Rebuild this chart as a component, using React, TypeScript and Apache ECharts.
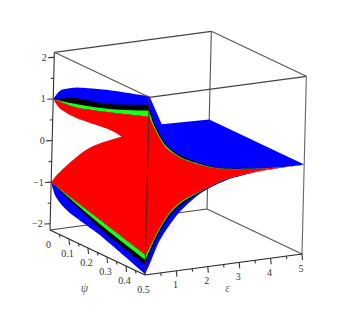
import React, { useEffect, useRef } from "react";
import * as echarts from "echarts";

type P3 = [number, number, number]; // [epsilon, psi, value]

// Tick labels
const zTicks = [2, 1, 0, -1, -2];
const zMinor = [1.5, 0.5, -0.5, -1.5];
const psiTicks = [0, 0.1, 0.2, 0.3, 0.4, 0.5];
const psiMinor = [0.05, 0.15, 0.25, 0.35, 0.45];
const epsTicks = [1, 2, 3, 4, 5];
const epsMinor = [0.5, 1.5, 2.5, 3.5, 4.5];
const zTop = 2.12;
const zBottom = -2.15;

// Sheets' edges at epsilon = 0: [psi, value]
const upperBlueFront = [[0, 1], [0.034, 1.27], [0.076, 1.415], [0.138, 1.57], [0.278, 1.82], [0.4, 2.0], [0.5, 2.15]];
const upperBlackFront = [[0, 1], [0.106, 1.25], [0.174, 1.35], [0.297, 1.52], [0.5, 1.94]];
const upperGreenFront = [[0, 1], [0.106, 1.12], [0.297, 1.4], [0.5, 1.8]];
const upperRedFront = [[0, 1], [0.106, 1.04], [0.175, 1.13], [0.297, 1.32], [0.5, 1.655]];
const lowerRedFront = [[0, -1], [0.26, -1.35], [0.5, -1.67]];
const lowerGreenFront = [[0, -1], [0.26, -1.45], [0.5, -1.79]];
const lowerBlackFront = [[0, -1], [0.26, -1.55], [0.5, -1.91]];
const lowerBlueFront = [[0, -1], [0.012, -1.165], [0.031, -1.32], [0.084, -1.49], [0.173, -1.61], [0.26, -1.71], [0.383, -1.92], [0.5, -2.13]];

// Sheets' edges at psi = 0.5: [epsilon, value]
const upperBlackSide = [[0, 1.94], [0.067, 1.73], [0.26, 1.35], [0.59, 0.915], [1.02, 0.63], [1.45, 0.45], [1.99, 0.269], [2.525, 0.16], [3.27, 0.08], [3.8, 0.04], [4.44, 0.01], [5, 0]];
const upperGreenSide = [[0, 1.8], [0.08, 1.62], [0.21, 1.37], [0.54, 0.925], [0.97, 0.62], [1.4, 0.44], [1.99, 0.253], [2.525, 0.15], [3.27, 0.074], [3.8, 0.035], [4.44, 0.007], [5, 0]];
const upperRedSide = [[0, 1.655], [0.21, 1.315], [0.54, 0.88], [0.97, 0.596], [1.4, 0.417], [1.99, 0.238], [2.525, 0.143], [3.27, 0.068], [3.8, 0.031], [4.44, 0.005], [5, 0]];
const lowerRedSide = [[0, -1.67], [0.137, -1.484], [0.39, -1.107], [0.75, -0.704], [1.16, -0.464], [1.69, -0.31], [2.0, -0.23], [2.43, -0.11], [3.05, -0.04], [3.8, -0.005], [4.44, 0], [5, 0]];
const lowerGreenSide = [[0, -1.79], [0.14, -1.55], [0.39, -1.16], [0.75, -0.75], [1.16, -0.5], [1.69, -0.325], [2.43, -0.12], [3.05, -0.045], [3.8, -0.007], [5, 0]];
const lowerBlackSide = [[0, -1.91], [0.14, -1.65], [0.39, -1.24], [0.75, -0.81], [1.16, -0.56], [1.69, -0.34], [2.43, -0.13], [3.05, -0.05], [3.8, -0.009], [5, 0]];
const lowerBlueSide = [[0, -2.13], [0.15, -1.884], [0.45, -1.354], [0.86, -0.915], [1.17, -0.665], [1.69, -0.37], [2.43, -0.145], [3.05, -0.06], [3.8, -0.012], [5, 0]];

// Red sheet's edge at psi = 0: [epsilon, value]
const redGapUpper = [[0, 1], [0.22, 0.75], [0.656, 0.51], [1.09, 0.34], [1.84, 0.07], [2.22, -0.13]];
const redGapLower = [[2.22, -0.13], [1.53, -0.22], [1.0, -0.37], [0.274, -0.777], [0, -1]];

// Upper blue sheet's far outline
const blueOutline: P3[] = [[0.417, 0.5, 1.43], [5, 0, 0], [5, 0.5, 0]];

// Draws a read edge as a smooth line through its points (Catmull-Rom)
function curve(a: P3[]): P3[] {
  const out: P3[] = [];
  for (let i = 0; i < a.length - 1; i++) {
    const p0 = a[Math.max(0, i - 1)];
    const p1 = a[i];
    const p2 = a[i + 1];
    const p3 = a[Math.min(a.length - 1, i + 2)];
    for (let s = 0; s < 6; s++) {
      const t = s / 6;
      out.push(
        [0, 1, 2].map(
          (k) =>
            0.5 *
            (2 * p1[k] +
              (p2[k] - p0[k]) * t +
              (2 * p0[k] - 5 * p1[k] + 4 * p2[k] - p3[k]) * t * t +
              (3 * p1[k] - p0[k] - 3 * p2[k] + p3[k]) * t * t * t),
        ) as P3,
      );
    }
  }
  out.push(a[a.length - 1]);
  return out;
}

const front = (a: number[][]): P3[] => curve(a.map(([psi, v]) => [0, psi, v] as P3));
const side = (a: number[][]): P3[] => curve(a.map(([eps, v]) => [eps, 0.5, v] as P3));
const back = (a: number[][]): P3[] => curve(a.map(([eps, v]) => [eps, 0, v] as P3));
const rev = (a: P3[]): P3[] => [...a].reverse();

const upperInner = [...rev(side(upperRedSide)), ...rev(front(upperRedFront))];
const lowerInner = [...rev(side(lowerRedSide)), ...rev(front(lowerRedFront))];

const layers: { color: string; pts: P3[] }[] = [
  { color: "#0000ff", pts: [...front(upperBlueFront), ...blueOutline, ...upperInner] },
  { color: "#000000", pts: [...front(upperBlackFront), ...side(upperBlackSide), ...upperInner] },
  { color: "#19ff19", pts: [...front(upperGreenFront), ...side(upperGreenSide), ...upperInner] },
  { color: "#0000ff", pts: [...front(lowerBlueFront), ...side(lowerBlueSide), ...lowerInner] },
  { color: "#000000", pts: [...front(lowerBlackFront), ...side(lowerBlackSide), ...lowerInner] },
  { color: "#19ff19", pts: [...front(lowerGreenFront), ...side(lowerGreenSide), ...lowerInner] },
  {
    color: "#ff0000",
    pts: [
      ...back(redGapUpper),
      ...back(redGapLower),
      ...front(lowerRedFront),
      ...side(lowerRedSide),
      ...upperInner,
    ],
  },
];

// Orthographic view of the box
function project([eps, psi, z]: P3): [number, number] {
  const w = z - zBottom;
  return [50 + 31.4 * eps + 190 * psi + 1.02 * w, 230 - 4.2 * eps + 90 * psi - 41.6 * w];
}

const backEdges: [P3, P3, string][] = [
  [[0, 0, zBottom], [5, 0, zBottom], "#444444"],
  [[5, 0, zBottom], [5, 0.5, zBottom], "#555555"],
  [[5, 0, zBottom], [5, 0, zTop], "#555555"],
  [[0, 0, zTop], [5, 0, zTop], "#444444"],
  [[5, 0, zTop], [5, 0.5, zTop], "#555555"],
];
const frontEdges: [P3, P3, string][] = [
  [[0, 0, zTop], [0, 0.5, zTop], "#555555"],
  [[0, 0.5, zTop], [5, 0.5, zTop], "#444444"],
  [[5, 0.5, zBottom], [5, 0.5, zTop], "#666666"],
  [[0, 0.5, zBottom], [0, 0.5, zTop], "#5a2020"],
  [[0, 0, zBottom], [0, 0, zTop], "#333333"],
  [[0, 0, zBottom], [0, 0.5, zBottom], "#222222"],
  [[0, 0.5, zBottom], [5, 0.5, zBottom], "#222222"],
];

export default function App() {
  const ref = useRef<HTMLDivElement>(null);
  useEffect(() => {
    const chart = echarts.init(ref.current!, undefined, { renderer: "svg" });
    const lineOf = (api: any, a: [number, number], b: [number, number], stroke: string) => {
      const p = api.coord(a);
      const q = api.coord(b);
      return {
        type: "line",
        shape: { x1: p[0], y1: p[1], x2: q[0], y2: q[1] },
        style: { stroke, lineWidth: 1.1, fill: "none" },
      };
    };
    const edgeSeries = (edges: [P3, P3, string][], name: string) => ({
      type: "custom",
      name,
      silent: true,
      clip: false,
      data: [[0, 0]],
      renderItem: (_: any, api: any) => ({
        type: "group",
        children: edges.map(([a, b, c]) => lineOf(api, project(a), project(b), c)),
      }),
    });
    const textEl = (api: any, pos: [number, number], text: string, align: string, extra: any = {}) => {
      const p = api.coord(pos);
      return {
        type: "text",
        x: p[0],
        y: p[1],
        style: {
          text,
          align,
          verticalAlign: "middle",
          fontFamily: "'Liberation Serif', serif",
          fontSize: 10,
          fill: "#333333",
          ...extra,
        },
      };
    };
    const tickSeries = {
      type: "custom",
      name: "axes",
      silent: true,
      clip: false,
      data: [[0, 0]],
      renderItem: (_: any, api: any) => {
        const c: any[] = [];
        const off = (p: [number, number], dx: number, dy: number): [number, number] => [p[0] + dx, p[1] + dy];
        const zTick = (z: number, len: number) => {
          const p = project([0, 0, z]);
          c.push(lineOf(api, p, off(p, -len, 0.3), "#333333"));
        };
        const downTick = (p: [number, number], len: number) => c.push(lineOf(api, p, off(p, 0.5, len), "#333333"));
        zTicks.forEach((z) => {
          zTick(z, 6);
          c.push(textEl(api, off(project([0, 0, z]), -7.5, 0), z < 0 ? "\u2212" + -z : String(z), "right"));
        });
        zMinor.forEach((z) => zTick(z, 3));
        psiTicks.forEach((v) => {
          const p = project([0, v, zBottom]);
          if (v > 0 && v < 0.5) downTick(p, 6);
          c.push(textEl(api, off(p, -1.5, 14), String(v), "center"));
        });
        psiMinor.forEach((v) => downTick(project([0, v, zBottom]), 3));
        epsTicks.forEach((v) => {
          const p = project([v, 0.5, zBottom]);
          downTick(p, 6);
          c.push(textEl(api, off(p, -1, 14), String(v), "center"));
        });
        epsMinor.forEach((v) => downTick(project([v, 0.5, zBottom]), 3));
        c.push(
          textEl(api, off(project([0, 0.25, zBottom]), -13, 35), "\u03C8", "center", { fontStyle: "italic", fontSize: 12, fill: "#666666" }),
        );
        c.push(
          textEl(api, off(project([2.5, 0.5, zBottom]), 4, 23), "\u03B5", "center", { fontStyle: "italic", fontSize: 12, fill: "#666666" }),
        );
        return { type: "group", children: c };
      },
    };
    chart.setOption({
      animation: false,
      backgroundColor: "#ffffff",
      grid: { left: 0, right: 0, top: 0, bottom: 0 },
      xAxis: { type: "value", min: 0, max: 344, show: false },
      yAxis: { type: "value", min: 0, max: 315, inverse: true, show: false },
      series: [
        edgeSeries(backEdges, "back frame"),
        {
          type: "custom",
          name: "surfaces",
          silent: true,
          clip: false,
          data: layers.map((_, i) => [i, 0]),
          renderItem: (params: any, api: any) => {
            const layer = layers[params.dataIndex];
            return {
              type: "polygon",
              shape: { points: layer.pts.map((p) => api.coord(project(p))) },
              style: { fill: layer.color },
            };
          },
        },
        edgeSeries(frontEdges, "front frame"),
        tickSeries,
      ],
    });
    return () => chart.dispose();
  }, []);
  return <div ref={ref} style={{ position: "fixed", left: 0, top: 0, width: 344, height: 315 }} />;
}
